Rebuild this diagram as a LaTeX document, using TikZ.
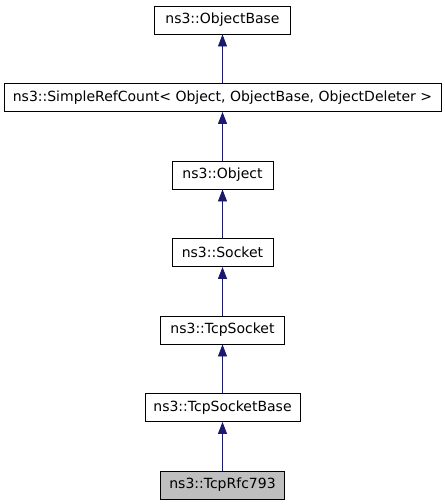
\documentclass[tikz,border=0pt]{standalone}
\usepackage{fontspec}
\setmainfont{DejaVu Sans}
\usetikzlibrary{arrows.meta}
\definecolor{edgeblue}{HTML}{191970}
\definecolor{nodegray}{HTML}{BFBFBF}
\begin{document}
\begin{tikzpicture}[x=1pt,y=-1pt,
  cls/.style={draw=black, line width=0.9pt, fill=white, minimum height=28pt, inner sep=0pt, font=\fontsize{14}{16}\selectfont},
  cur/.style={cls, fill=nodegray},
  inh/.style={draw=edgeblue, line width=0.9pt, -{Triangle[length=12pt,width=9pt]}}]
\useasboundingbox (0,0) rectangle (445,504);
\node[cls, minimum width=136pt] (ob) at (222.5,20) {ns3::ObjectBase};
\node[cls, minimum width=437pt] (src) at (222.5,97.5) {ns3::SimpleRefCount< Object, ObjectBase, ObjectDeleter >};
\node[cls, minimum width=101pt] (obj) at (222.5,175) {ns3::Object};
\node[cls, minimum width=101pt] (sock) at (222.5,252.5) {ns3::Socket};
\node[cls, minimum width=124pt] (tcps) at (222.5,330) {ns3::TcpSocket};
\node[cls, minimum width=155pt] (tcpsb) at (222.5,407.5) {ns3::TcpSocketBase};
\node[cur, minimum width=124pt] (rfc) at (222.5,485) {ns3::TcpRfc793};
\draw[inh] (src.north) -- (ob.south);
\draw[inh] (obj.north) -- (src.south);
\draw[inh] (sock.north) -- (obj.south);
\draw[inh] (tcps.north) -- (sock.south);
\draw[inh] (tcpsb.north) -- (tcps.south);
\draw[inh] (rfc.north) -- (tcpsb.south);
\end{tikzpicture}
\end{document}
